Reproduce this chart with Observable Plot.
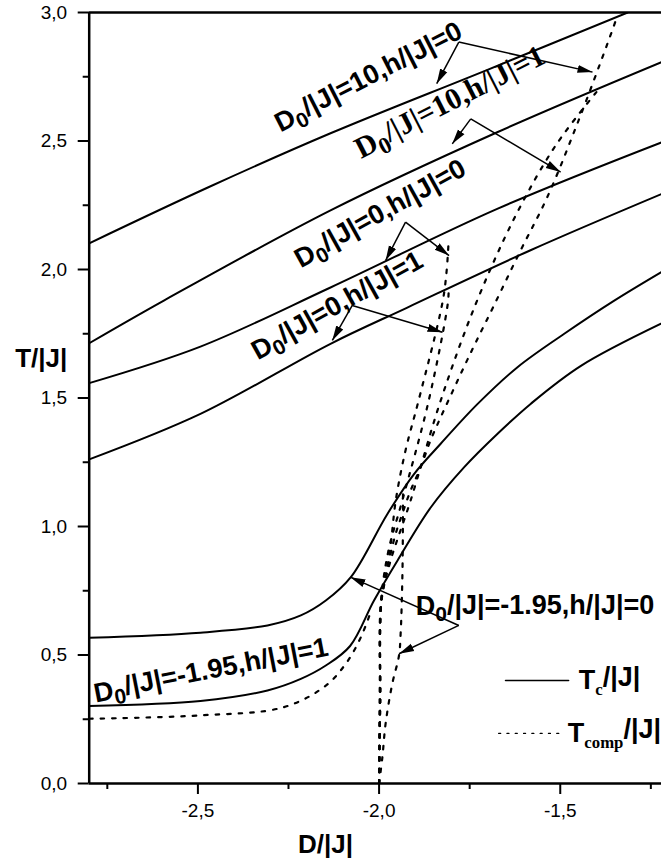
<!DOCTYPE html>
<html><head><meta charset="utf-8">
<script src="https://cdn.jsdelivr.net/npm/d3@7"></script>
<script src="https://cdn.jsdelivr.net/npm/@observablehq/plot@0.6"></script>
<style>
body{margin:0;background:#fff;}
#chart svg{display:block;}
</style></head><body><div id="chart"></div>
<script>
// ---- tick values ----
const xMajor = [-2.5, -2.0, -1.5];
const xMinor = [-2.75, -2.25, -1.75, -1.25];
const yMajor = [0, 0.5, 1.0, 1.5, 2.0, 2.5, 3.0];
const yMinor = [0.25, 0.75, 1.25, 1.75, 2.25, 2.75];

// ---- Tc/|J| (solid) : [D/|J|, T/|J|] ----
const tcD10h0 = [[-2.8,2.102],[-2.468,2.322],[-2.134,2.530],[-1.701,2.777],[-1.314,3.0]];
const tcD10h1 = [[-2.8,1.713],[-2.594,1.879],[-2.134,2.23],[-1.674,2.534],[-1.22,2.807]];
const tcD0h0  = [[-2.8,1.558],[-2.493,1.70],[-2.134,1.93],[-1.674,2.236],[-1.22,2.495]];
const tcD0h1  = [[-2.8,1.261],[-2.493,1.438],[-2.134,1.711],[-1.922,1.852],[-1.582,2.075],[-1.22,2.294]];
const tcDm195h0 = [[-2.8,0.567],[-2.493,0.587],[-2.308,0.615],[-2.216,0.654],[-2.147,0.712],[-2.078,0.803],[-1.977,1.049],[-1.903,1.205],[-1.830,1.322],[-1.728,1.477],[-1.618,1.620],[-1.489,1.750],[-1.351,1.879],[-1.221,1.99]];
const tcDm195h1 = [[-2.8,0.302],[-2.493,0.321],[-2.308,0.362],[-2.216,0.407],[-2.147,0.459],[-2.08,0.535],[-2.014,0.712],[-1.949,0.868],[-1.857,1.075],[-1.765,1.231],[-1.673,1.361],[-1.581,1.478],[-1.443,1.625],[-1.222,1.789]];

// ---- Tcomp/|J| (dotted) ----
const tcompD10h0 = [[-2.0,0],[-1.998,0.4],[-1.994,0.70],[-1.982,0.80],[-1.957,0.958],[-1.936,1.049],[-1.913,1.140],[-1.885,1.231],[-1.858,1.335],[-1.830,1.425],[-1.798,1.523],[-1.766,1.620],[-1.733,1.717],[-1.683,1.860],[-1.611,2.07],[-1.536,2.281],[-1.453,2.567],[-1.370,2.878],[-1.342,2.988]];
const tcompD10h1 = [[-2.0,0],[-1.997,0.323],[-1.994,0.712],[-1.968,0.868],[-1.913,1.101],[-1.830,1.490],[-1.7315,1.872],[-1.623,2.210],[-1.513,2.482],[-1.397,2.696]];
const tcompD0h0  = [[-2.0,0],[-1.997,0.323],[-1.994,0.712],[-1.970,0.907],[-1.954,1.101],[-1.927,1.296],[-1.891,1.490],[-1.825,1.872],[-1.8135,1.996],[-1.808,2.113]];
const tcompD0h1  = [[-2.0,0],[-1.997,0.323],[-1.994,0.712],[-1.974,0.907],[-1.936,1.101],[-1.863,1.490],[-1.810,1.872],[-1.808,1.926]];
const tcompDm195h0 = [[-2.0,0],[-1.991,0.101],[-1.982,0.233],[-1.9635,0.389],[-1.945,0.498],[-1.9405,0.584],[-1.9378,0.685],[-1.935,0.868],[-1.934,1.125]];
const tcompDm195h1 = [[-2.8,0.252],[-2.493,0.265],[-2.263,0.297],[-2.147,0.381],[-2.09,0.47],[-2.05,0.57],[-2.02,0.68]];

// ---- annotation labels: text, D, T (baseline start), angle ----
const labelText  = ["D_0/|J|=10,h/|J|=0", "D_0/|J|=10,h/|J|=1", "D_0/|J|=0,h/|J|=0", "D_0/|J|=0,h/|J|=1", "D_0/|J|=-1.95,h/|J|=1", "D_0/|J|=-1.95,h/|J|=0"];
const labelD     = [-2.272, -2.05, -2.216, -2.335, -2.782, -1.899];
const labelT     = [2.533, 2.43, 2.004, 1.646, 0.315, 0.654];
const labelAngle = [-27, -27, -29, -29, -11, 0];
const labelSerif = [false, true, false, false, false, false];

// ---- arrows: from (D,T) to (D,T) ----
const arrowFrom = [[-1.780,2.885],[-1.780,2.885],[-1.747,2.586],[-1.747,2.586],[-1.927,2.184],[-1.927,2.184],[-2.074,1.860],[-2.074,1.860],[-1.780,0.615],[-1.780,0.615]];
const arrowTo   = [[-1.841,2.723],[-1.411,2.768],[-1.798,2.489],[-1.499,2.379],[-1.982,2.035],[-1.807,2.054],[-2.129,1.724],[-1.825,1.756],[-2.079,0.803],[-1.945,0.505]];

// ---- legend ----
const legendText = ["T_c/|J|", "T_comp/|J|"];
const legendLineD = [[-1.651,-1.477],[-1.670,-1.499]];
const legendT = [0.401, 0.195];
const legendTextD = [-1.449, -1.479];

const fmt = d => d.toFixed(1).replace(".", ",").replace("\u2212", "-");
const solid = [tcD10h0, tcD10h1, tcD0h0, tcD0h1, tcDm195h0, tcDm195h1];
const dotted = [tcompD10h0, tcompD10h1, tcompD0h0, tcompD0h1, tcompDm195h0, tcompDm195h1];

const labels = labelText.map((t, i) => ({t, x: labelD[i], y: labelT[i], a: labelAngle[i], serif: labelSerif[i]}));
const arrows = arrowFrom.map((f, i) => ({x1: f[0], y1: f[1], x2: arrowTo[i][0], y2: arrowTo[i][1]}));

const SANS = "'Liberation Sans', Arial, sans-serif";
const SERIF = "'Liberation Serif', 'Times New Roman', serif";

const marks = [];
solid.forEach(s => marks.push(Plot.line(s, {x: d => d[0], y: d => d[1], curve: "catmull-rom", stroke: "#000", strokeWidth: 2, clip: true})));
dotted.forEach(s => marks.push(Plot.line(s, {x: d => d[0], y: d => d[1], curve: "catmull-rom", stroke: "#000", strokeWidth: 2.2, strokeDasharray: "3.5,8", clip: true})));
marks.push(Plot.link(arrows, {x1: "x1", y1: "y1", x2: "x2", y2: "y2", stroke: "#000", strokeWidth: 1.5, className: "arrowlink"}));
labels.forEach(l => marks.push(Plot.text([l], {x: "x", y: "y", text: "t", rotate: l.a, textAnchor: "start", lineAnchor: "bottom", fontSize: l.serif ? 30 : 27, fontWeight: "bold", fontFamily: l.serif ? SERIF : SANS, fill: "#000"})));
legendLineD.forEach((ld, i) => marks.push(Plot.line([[ld[0], legendT[i]], [ld[1], legendT[i]]], {x: d => d[0], y: d => d[1], stroke: "#000", strokeWidth: i === 0 ? 1.6 : 1.3, strokeDasharray: i === 0 ? null : "2,6.3"})));
marks.push(Plot.text(legendText.map((t, i) => ({t, x: legendTextD[i], y: legendT[i]})), {x: "x", y: "y", text: "t", textAnchor: "start", fontSize: 27, fontWeight: "bold", fontFamily: SANS, fill: "#000"}));
// axes
marks.push(Plot.axisX(xMajor, {tickSize: 11, tickPadding: 9, tickFormat: fmt, fontSize: 19, strokeWidth: 2, label: null}));
marks.push(Plot.axisX(xMinor, {tickSize: 6, tickFormat: () => "", strokeWidth: 2, label: null}));
marks.push(Plot.axisY(yMajor, {tickSize: 11, tickPadding: 11, tickFormat: fmt, fontSize: 19, strokeWidth: 2, label: null}));
marks.push(Plot.axisY(yMinor, {tickSize: 6, tickFormat: () => "", strokeWidth: 2, label: null}));
marks.push(Plot.ruleX([-2.8], {stroke: "#000", strokeWidth: 2.5}));
marks.push(Plot.ruleY([0, 3], {stroke: "#000", strokeWidth: 2.5}));
marks.push(Plot.text(["T/|J|"], {x: -2.8, y: 1.654, dx: -48, text: d => d, textAnchor: "middle", fontSize: 26, fontWeight: "bold", fontFamily: SANS}));
marks.push(Plot.text(["D/|J|"], {x: -2.148, y: 0, dy: 61, text: d => d, textAnchor: "middle", fontSize: 26, fontWeight: "bold", fontFamily: SANS}));

const chart = Plot.plot({
  width: 661, height: 861,
  marginLeft: 88.7, marginRight: 0, marginTop: 12, marginBottom: 78,
  x: {domain: [-2.8, -1.2206]},
  y: {domain: [0, 3]},
  style: {fontFamily: SANS, fontSize: "19px", color: "#000", background: "#fff", overflow: "visible"},
  marks
});

// filled arrowheads on the annotation links
const svg = d3.select(chart);
svg.append("defs").append("marker")
  .attr("id", "ahead").attr("markerUnits", "userSpaceOnUse")
  .attr("viewBox", "0 0 16 10").attr("markerWidth", 16).attr("markerHeight", 10)
  .attr("refX", 15).attr("refY", 5).attr("orient", "auto")
  .append("path").attr("d", "M0,1L15,5L0,9Z").attr("fill", "#000");
svg.selectAll("g.arrowlink path, g.arrowlink line").attr("marker-end", "url(#ahead)");

// subscripts: "X_sub/rest"
svg.selectAll("g[aria-label=text] text").each(function() {
  const txt = this.textContent;
  const m = txt.match(/^(.*?)_([^/]+)(\/.*)$/);
  if (!m) return;
  const isLegend = txt.startsWith("T_");
  const sel = d3.select(this);
  sel.text(null);
  sel.append("tspan").text(m[1]);
  const sub = sel.append("tspan").attr("dy", isLegend ? "0.35em" : "0.28em").style("font-size", isLegend ? "0.62em" : "0.78em").text(m[2]);
  if (isLegend) sub.style("font-family", SERIF);
  sel.append("tspan").attr("dy", isLegend ? "-0.35em" : "-0.28em").text(m[3]);
});

document.getElementById("chart").appendChild(chart);
</script>
</body></html>
